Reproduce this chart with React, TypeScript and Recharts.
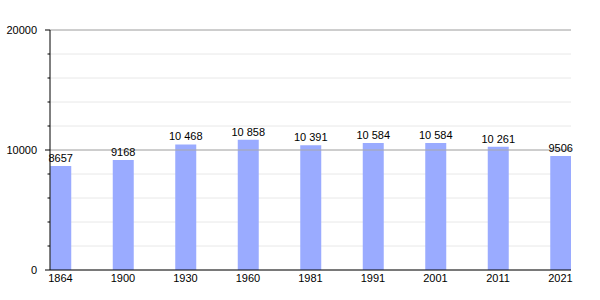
import React from "react";
import { BarChart, Bar, XAxis, YAxis, CartesianGrid, ReferenceLine, LabelList } from "recharts";

const years = ["1864", "1900", "1930", "1960", "1981", "1991", "2001", "2011", "2021"];
const population = [8657, 9168, 10468, 10858, 10391, 10584, 10584, 10261, 9506];
const yTicks = [0, 2000, 4000, 6000, 8000, 10000, 12000, 14000, 16000, 18000, 20000];
const yLabelled = [0, 10000, 20000];

const data = years.map((y, i) => ({ i, year: y, pop: population[i] }));

const fmt = (v: number) => {
  const s = String(v);
  return v >= 10000 ? s.slice(0, s.length - 3) + "\u00a0" + s.slice(s.length - 3) : s;
};

const FONT = "Liberation Sans, Arial, sans-serif";

const YTick = (props: any) => {
  const { x, y, payload } = props;
  const major = yLabelled.includes(payload.value);
  return (
    <g>
      <line x1={x - (major ? 5 : 2.5)} x2={x} y1={y} y2={y} stroke="#000" strokeWidth={1} />
      {major && (
        <text x={x - 13} y={y} dy="0.35em" textAnchor="end" fontSize={11} fontFamily={FONT} fill="#000">
          {payload.value}
        </text>
      )}
    </g>
  );
};

const ValueLabel = (props: any) => {
  const { x, y, width, value } = props;
  return (
    <text x={x + width / 2} y={y - 4} textAnchor="middle" fontSize={11} fontFamily={FONT} fill="#000">
      {fmt(Number(value))}
    </text>
  );
};

export default function App() {
  return (
    <div style={{ position: "absolute", left: 0, top: 0, width: 600, height: 300, background: "#fff" }}>
      <BarChart width={600} height={300} data={data} margin={{ top: 30, right: 29, left: 0, bottom: 0 }}>
        <CartesianGrid vertical={false} stroke="#e8e8e8" strokeWidth={1} />
        <ReferenceLine y={10000} stroke="#a8a8a8" strokeWidth={1} />
        <ReferenceLine y={20000} stroke="#a8a8a8" strokeWidth={1} />
        <XAxis
          dataKey="i"
          type="number"
          domain={[-0.168, 8.168]}
          ticks={[0, 1, 2, 3, 4, 5, 6, 7, 8]}
          allowDataOverflow
          tickFormatter={(v: number) => years[v]}
          tickLine={false}
          tickSize={0}
          tickMargin={4}
          height={30}
          stroke="#000"
          tick={{ fill: "#000", fontSize: 11, fontFamily: FONT }}
          interval={0}
        />
        <YAxis
          domain={[0, 20000]}
          ticks={yTicks}
          width={50}
          tickLine={false}
          tickSize={0}
          tickMargin={0}
          stroke="#000"
          tick={<YTick />}
          interval={0}
        />
        <Bar dataKey="pop" fill="#9aabff" barSize={21} isAnimationActive={false}>
          <LabelList dataKey="pop" content={<ValueLabel />} />
        </Bar>
      </BarChart>
    </div>
  );
}
